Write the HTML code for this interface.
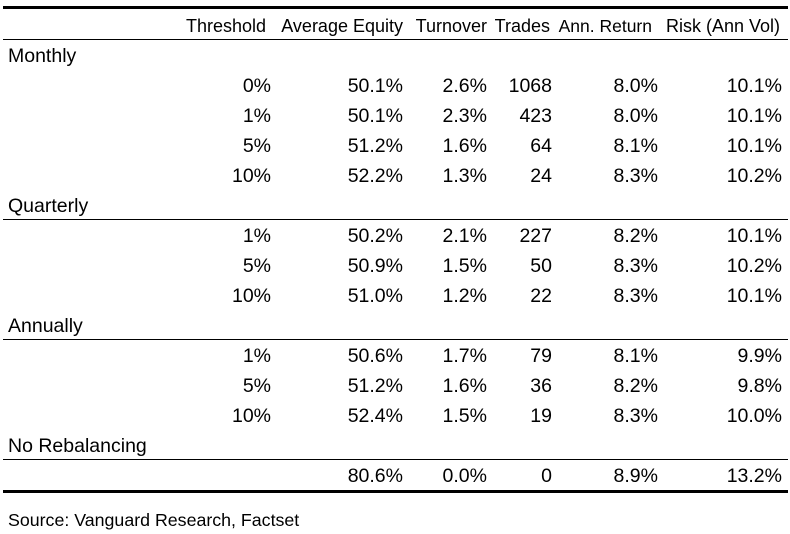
<!DOCTYPE html>
<html><head><style>
body{margin:0;width:790px;height:534px;background:#fff;position:relative;font-family:"Liberation Sans",sans-serif;font-size:19.5px;color:#000;overflow:hidden}
.t{position:absolute;white-space:nowrap;line-height:20px}
.r{text-align:right}
.l{position:absolute;left:3px;width:785px;background:#000}
</style></head><body>
<div class="l" style="top:6px;height:3px"></div>
<div class="l" style="top:39px;height:1px"></div>
<div class="l" style="top:219px;height:1px"></div>
<div class="l" style="top:339px;height:1px"></div>
<div class="l" style="top:459px;height:1px"></div>
<div class="l" style="top:490px;height:3px"></div>
<div id="c"></div>
<script>
var c=document.getElementById('c'),h='';
function t(x,y,s,right,fs){var f=fs?'font-size:'+fs+'px;':'';h+= right?'<div class="t r" style="'+f+'right:'+(790-x)+'px;top:'+(y-9)+'px">'+s+'</div>':'<div class="t" style="'+f+'left:'+x+'px;top:'+(y-9)+'px">'+s+'</div>';}
var cols=[271,403,487,552,658,782];
var hd=[[266,'Threshold',18],[403,'Average Equity',18],[487,'Turnover',18],[550,'Trades',18],[652,'Ann. Return',17.5],[780,'Risk (Ann Vol)',18]];
hd.forEach(function(a){t(a[0],25,a[1],1,a[2])});
t(8,55,'Monthly');t(8,205,'Quarterly');t(8,325,'Annually');t(8,445,'No Rebalancing');
var rows=[[85,'0%','50.1%','2.6%','1068','8.0%','10.1%'],[115,'1%','50.1%','2.3%','423','8.0%','10.1%'],[145,'5%','51.2%','1.6%','64','8.1%','10.1%'],[175,'10%','52.2%','1.3%','24','8.3%','10.2%'],
[235,'1%','50.2%','2.1%','227','8.2%','10.1%'],[265,'5%','50.9%','1.5%','50','8.3%','10.2%'],[295,'10%','51.0%','1.2%','22','8.3%','10.1%'],
[355,'1%','50.6%','1.7%','79','8.1%','9.9%'],[385,'5%','51.2%','1.6%','36','8.2%','9.8%'],[415,'10%','52.4%','1.5%','19','8.3%','10.0%'],
[475,'','80.6%','0.0%','0','8.9%','13.2%']];
rows.forEach(function(r){for(var i=0;i<6;i++)if(r[i+1])t(cols[i],r[0],r[i+1],1)});
h+='<div class="t" style="left:8px;top:510px;font-size:17.8px">Source: Vanguard Research, Factset</div>';
c.innerHTML=h;
</script>
</body></html>
